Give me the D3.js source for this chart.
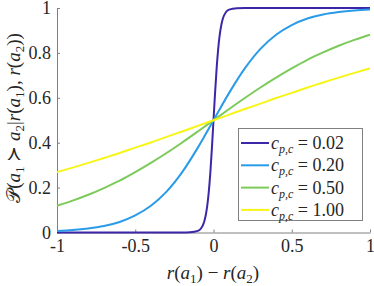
<!DOCTYPE html>
<html>
<head>
<script src="https://cdn.jsdelivr.net/npm/d3@7"></script>
<style>
  body { margin: 0; background: #fff; }
</style>
</head>
<body>
<svg id="chart" width="374" height="286"></svg>
<script>
// values
var cLabels = ["0.02", "0.20", "0.50", "1.00"];
var colors = ["#3e26a8", "#2a9be8", "#7ccb5a", "#f7f516"];

var xWide = [-1, -0.9, -0.8, -0.7, -0.6, -0.5, -0.4, -0.3, -0.2, -0.1, 0,
             0.1, 0.2, 0.3, 0.4, 0.5, 0.6, 0.7, 0.8, 0.9, 1];
var yC100 = [0.269, 0.289, 0.310, 0.332, 0.354, 0.378, 0.401, 0.426, 0.450, 0.475, 0.5,
             0.525, 0.550, 0.574, 0.599, 0.622, 0.646, 0.668, 0.690, 0.711, 0.731];
var yC050 = [0.119, 0.142, 0.168, 0.198, 0.231, 0.269, 0.310, 0.354, 0.401, 0.450, 0.5,
             0.550, 0.599, 0.646, 0.690, 0.731, 0.769, 0.802, 0.832, 0.858, 0.881];
var yC020 = [0.007, 0.011, 0.018, 0.029, 0.047, 0.076, 0.119, 0.182, 0.269, 0.378, 0.5,
             0.622, 0.731, 0.818, 0.881, 0.924, 0.953, 0.971, 0.982, 0.989, 0.993];

var xNarrow = [-1, -0.5, -0.2, -0.15, -0.1, -0.08, -0.06, -0.05, -0.04, -0.03, -0.02, -0.01, 0,
               0.01, 0.02, 0.03, 0.04, 0.05, 0.06, 0.08, 0.1, 0.15, 0.2, 0.5, 1];
var yC002 = [0, 0, 0, 0.001, 0.007, 0.018, 0.047, 0.076, 0.119, 0.182, 0.269, 0.378, 0.5,
             0.622, 0.731, 0.818, 0.881, 0.924, 0.953, 0.982, 0.993, 0.999, 1, 1, 1];

var xTicks = [-1, -0.5, 0, 0.5, 1];
var xTickLabels = ["-1", "-0.5", "0", "0.5", "1"];
var yTicks = [0, 0.2, 0.4, 0.6, 0.8, 1];
var yTickLabels = ["0", "0.2", "0.4", "0.6", "0.8", "1"];

var series = [
  {x: xNarrow, y: yC002},
  {x: xWide, y: yC020},
  {x: xWide, y: yC050},
  {x: xWide, y: yC100}
];

var FONT = "font-family:'Liberation Serif',serif;";

var svg = d3.select("#chart");
var x = d3.scaleLinear().domain([-1, 1]).range([57, 370]);
var y = d3.scaleLinear().domain([0, 1]).range([232.5, 8]);

// axes
svg.append("g").attr("transform", "translate(0," + y(0) + ")")
  .call(d3.axisBottom(x).tickValues(xTicks).tickFormat(function(d, i) { return xTickLabels[i]; })
    .tickSizeInner(-3).tickSizeOuter(0).tickPadding(7));
svg.append("g").attr("transform", "translate(" + x(-1) + ",0)")
  .call(d3.axisLeft(y).tickValues(yTicks).tickFormat(function(d, i) { return yTickLabels[i]; })
    .tickSizeInner(-3).tickSizeOuter(0).tickPadding(6));
svg.selectAll(".domain, .tick line").attr("stroke", "#808080");
svg.selectAll(".tick text").attr("style", FONT + "font-size:18px;fill:#262626");

// curves
var line = d3.line().curve(d3.curveMonotoneX);
svg.append("g").selectAll("path").data(series).enter().append("path")
  .attr("d", function(s) { return line(s.x.map(function(v, i) { return [x(v), y(s.y[i])]; })); })
  .attr("fill", "none")
  .attr("stroke", function(s, i) { return colors[i]; })
  .attr("stroke-width", 2);

function tx(sel, str, opts) {
  opts = opts || {};
  var t = sel.append("tspan").text(str);
  var st = "";
  if (opts.it) st += "font-style:italic;";
  if (opts.size) st += "font-size:" + opts.size + "px;";
  if (st) t.attr("style", st);
  if (opts.dy) t.attr("dy", opts.dy);
  return t;
}

// legend
var lg = svg.append("g");
lg.append("rect").attr("x", 238.5).attr("y", 128.5).attr("width", 124).attr("height", 92)
  .attr("fill", "#fff").attr("stroke", "#808080").attr("stroke-width", 1);
cLabels.forEach(function(lab, i) {
  var ry = 143 + i * 22.3;
  lg.append("line").attr("x1", 241).attr("x2", 269).attr("y1", ry).attr("y2", ry)
    .attr("stroke", colors[i]).attr("stroke-width", 2);
  var t = lg.append("text").attr("x", 271).attr("y", ry + 6)
    .attr("style", FONT + "font-size:18px;fill:#262626");
  tx(t, "c", {it: true});
  tx(t, "p,c", {it: true, size: 12, dy: 4});
  tx(t, " = " + lab, {dy: -4});
});

// x label
var xl = svg.append("text").attr("x", 213).attr("y", 279).attr("text-anchor", "middle")
  .attr("style", FONT + "font-size:19px;fill:#262626");
tx(xl, "r", {it: true}); tx(xl, "("); tx(xl, "a", {it: true});
tx(xl, "1", {size: 13, dy: 4}); tx(xl, ") \u2212 ", {dy: -4});
tx(xl, "r", {it: true}); tx(xl, "("); tx(xl, "a", {it: true});
tx(xl, "2", {size: 13, dy: 4}); tx(xl, ")", {dy: -4});

// y label
var yl = svg.append("text").attr("transform", "translate(20,118) rotate(-90)")
  .attr("text-anchor", "middle").attr("style", FONT + "font-size:19px;fill:#262626");
tx(yl, "\uD835\uDCAB"); tx(yl, "("); tx(yl, "a", {it: true});
tx(yl, "1", {size: 13, dy: 4}); tx(yl, " \u227B ", {dy: -4});
tx(yl, "a", {it: true}); tx(yl, "2", {size: 13, dy: 4}); tx(yl, "|", {dy: -4});
tx(yl, "r", {it: true}); tx(yl, "("); tx(yl, "a", {it: true});
tx(yl, "1", {size: 13, dy: 4}); tx(yl, "), ", {dy: -4});
tx(yl, "r", {it: true}); tx(yl, "("); tx(yl, "a", {it: true});
tx(yl, "2", {size: 13, dy: 4}); tx(yl, "))", {dy: -4});
</script>
</body>
</html>
